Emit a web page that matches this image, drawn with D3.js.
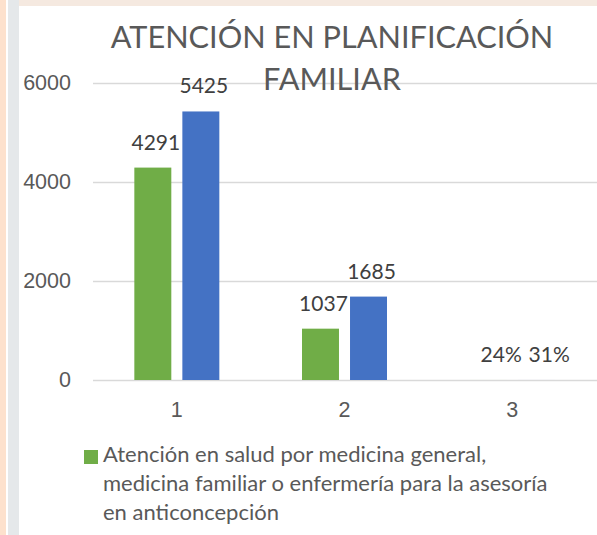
<!DOCTYPE html>
<meta charset="utf-8">
<script src="https://d3js.org/d3.v7.min.js"></script>
<style>
  body { margin: 0; background: #fff; }
  svg { display: block; font-family: Lato, "Open Sans", sans-serif; }
</style>
<body>
<svg id="vis" width="597" height="535"></svg>
<script>
// data
var categories = ["1", "2", "3"];
var seriesNames = ["verde", "azul"];
var greenValues = [4291, 1037, 0.24];
var blueValues = [5425, 1685, 0.31];
var greenLabels = ["4291", "1037", "24%"];
var blueLabels = ["5425", "1685", "31%"];
var yTicks = [0, 2000, 4000, 6000];
var titleLines = ["ATENCIÓN EN PLANIFICACIÓN", "FAMILIAR"];
var legendLines = ["Atención en salud por medicina general,",
                   "medicina familiar o enfermería para la asesoría",
                   "en anticoncepción"];

var colors = { verde: "#70ad47", azul: "#4472c4" };

var svg = d3.select("#vis");

// page frame (slide background round the chart)
svg.append("rect").attr("x", 0).attr("y", 0).attr("width", 597).attr("height", 535).attr("fill", "#fff");
svg.append("rect").attr("x", 0).attr("y", 0).attr("width", 6).attr("height", 535).attr("fill", "#fde1cd");
svg.append("rect").attr("x", 8).attr("y", 0).attr("width", 11).attr("height", 535).attr("fill", "#e5e8ea");
svg.append("rect").attr("x", 19).attr("y", 0).attr("width", 578).attr("height", 6).attr("fill", "#f5e9e0");

// scales
var y = d3.scaleLinear().domain([0, 6000]).range([380, 83]);
var x = d3.scaleBand().domain(categories).range([93, 596]);
var groupW = 85;
var xs = d3.scaleBand().domain(seriesNames)
  .range([(x.bandwidth() - groupW) / 2, (x.bandwidth() + groupW) / 2])
  .paddingInner(0.23);

// gridlines + y labels
var yAxis = svg.append("g").attr("transform", "translate(93,0)")
  .call(d3.axisLeft(y).tickValues(yTicks).tickSize(-504).tickPadding(22).tickFormat(d3.format("d")));
yAxis.select(".domain").remove();
yAxis.selectAll("line").attr("stroke", "#d9d9d9").attr("stroke-width", 1.5);
yAxis.selectAll("text").attr("fill", "#595959").style("font-size", "21.5px").attr("font-family", null);

// x labels
var xAxis = svg.append("g").attr("transform", "translate(0,380)")
  .call(d3.axisBottom(x).tickSize(0).tickPadding(22));
xAxis.select(".domain").remove();
xAxis.selectAll("text").attr("fill", "#595959").style("font-size", "21.5px").attr("font-family", null);

// bars
var rows = categories.map(function(c, i) {
  return { cat: c, vals: [
    { s: "verde", v: greenValues[i], lab: greenLabels[i] },
    { s: "azul", v: blueValues[i], lab: blueLabels[i] }] };
});

var groups = svg.selectAll(".grp").data(rows).enter().append("g")
  .attr("class", "grp")
  .attr("transform", function(d) { return "translate(" + x(d.cat) + ",0)"; });

groups.selectAll("rect").data(function(d) { return d.vals; }).enter().append("rect")
  .attr("x", function(d) { return xs(d.s); })
  .attr("width", xs.bandwidth())
  .attr("y", function(d) { return y(d.v); })
  .attr("height", function(d) { return y(0) - y(d.v); })
  .attr("fill", function(d) { return colors[d.s]; });

groups.selectAll("text").data(function(d) { return d.vals; }).enter().append("text")
  .attr("x", function(d) { return xs(d.s) + xs.bandwidth() / 2 + (d.v < 1 ? 13 : 3); })
  .attr("y", function(d) { return y(d.v) - 18; })
  .attr("text-anchor", "middle")
  .attr("fill", "#404040")
  .style("font-size", "21px")
  .text(function(d) { return d.lab; });

// title
svg.append("text")
  .attr("x", 332).attr("y", 48)
  .attr("text-anchor", "middle")
  .attr("fill", "#595959")
  .style("font-size", "30.7px")
  .selectAll("tspan").data(titleLines).enter().append("tspan")
  .attr("x", 332).attr("dy", function(d, i) { return i ? 42 : 0; })
  .text(function(d) { return d; });

// legend
svg.append("rect").attr("x", 84).attr("y", 450).attr("width", 14).attr("height", 14).attr("fill", colors.verde);
svg.append("text")
  .attr("x", 103).attr("y", 462)
  .attr("fill", "#595959")
  .style("font-size", "22px")
  .selectAll("tspan").data(legendLines).enter().append("tspan")
  .attr("x", 103).attr("dy", function(d, i) { return i ? 29 : 0; })
  .text(function(d) { return d; });
</script>
</body>
